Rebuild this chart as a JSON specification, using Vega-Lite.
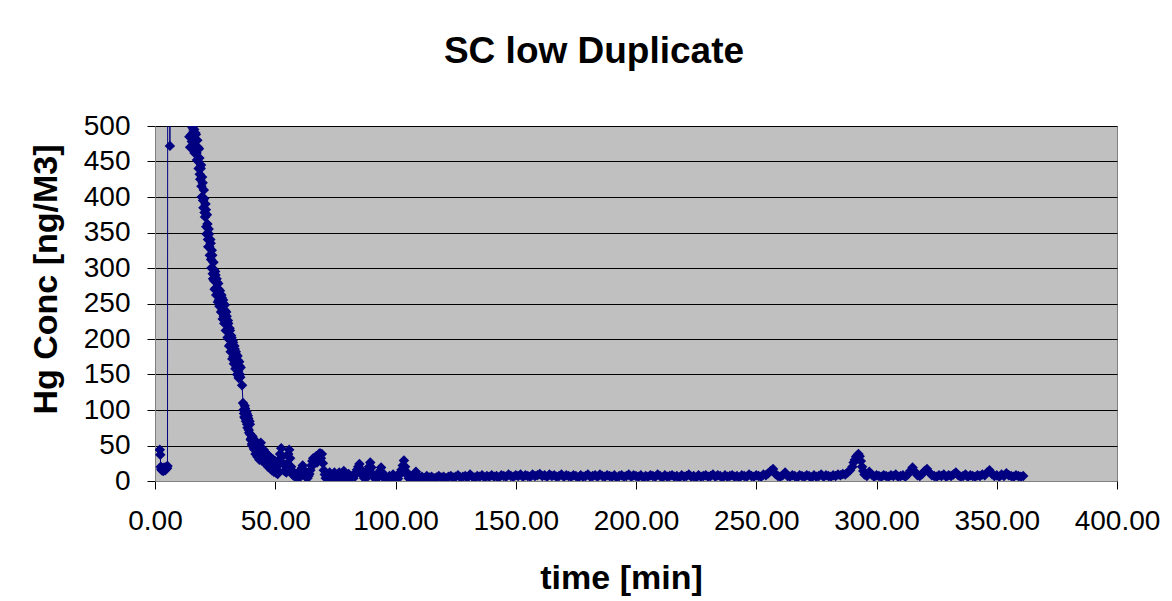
{
  "$schema": "https://vega.github.io/schema/vega-lite/v6.json",
  "width": 962,
  "height": 355,
  "autosize": "none",
  "padding": {"left": 155, "top": 126, "right": 55, "bottom": 120},
  "background": "white",
  "config": {
    "font": "Liberation Sans",
    "view": {"stroke": "#808080", "strokeWidth": 1, "fill": "#C0C0C0"}
  },
  "title": {
    "text": "SC low Duplicate",
    "font": "Liberation Sans",
    "fontSize": 37,
    "fontWeight": "bold",
    "color": "black",
    "anchor": "middle",
    "frame": "group",
    "dx": -42,
    "offset": 12,
    "baseline": "alphabetic"
  },
  "data": {
    "values": [
      {"t": 2.0, "c": 44}, {"t": 2.2, "c": 37}, {"t": 2.4, "c": 20}, {"t": 2.6, "c": 17}, {"t": 2.8, "c": 15},
      {"t": 3.0, "c": 18}, {"t": 3.2, "c": 16}, {"t": 3.4, "c": 14}, {"t": 3.6, "c": 17}, {"t": 3.8, "c": 19},
      {"t": 4.0, "c": 16}, {"t": 4.2, "c": 15}, {"t": 4.4, "c": 18}, {"t": 4.6, "c": 17}, {"t": 4.8, "c": 20},
      {"t": 5.0, "c": 18}, {"t": 5.2, "c": 21}, {"t": 5.4, "c": 1450}, {"t": 6.2, "c": 472}, {"t": 6.6, "c": 1300},
      {"t": 7.5, "c": 1100}, {"t": 8.5, "c": 950}, {"t": 9.5, "c": 850}, {"t": 10.5, "c": 760}, {"t": 11.5, "c": 680},
      {"t": 12.5, "c": 610}, {"t": 13.5, "c": 555}, {"t": 14.0, "c": 520}, {"t": 14.3, "c": 485}, {"t": 14.6, "c": 470},
      {"t": 15.0, "c": 505}, {"t": 15.3, "c": 478}, {"t": 15.6, "c": 498}, {"t": 16.0, "c": 468}, {"t": 16.3, "c": 495},
      {"t": 16.6, "c": 472}, {"t": 17.0, "c": 488}, {"t": 17.3, "c": 462}, {"t": 17.6, "c": 480}, {"t": 18.0, "c": 450},
      {"t": 18.3, "c": 468}, {"t": 18.6, "c": 432}, {"t": 19.0, "c": 440}, {"t": 19.3, "c": 415}, {"t": 19.6, "c": 428},
      {"t": 20.0, "c": 395}, {"t": 20.3, "c": 410}, {"t": 20.6, "c": 378}, {"t": 21.0, "c": 390}, {"t": 21.3, "c": 358},
      {"t": 21.6, "c": 375}, {"t": 22.0, "c": 340}, {"t": 22.3, "c": 355}, {"t": 22.6, "c": 330}, {"t": 23.0, "c": 340},
      {"t": 23.3, "c": 312}, {"t": 23.6, "c": 325}, {"t": 24.0, "c": 292}, {"t": 24.3, "c": 308}, {"t": 24.6, "c": 282},
      {"t": 25.0, "c": 295}, {"t": 25.3, "c": 272}, {"t": 25.6, "c": 285}, {"t": 26.0, "c": 262}, {"t": 26.3, "c": 278},
      {"t": 26.6, "c": 255}, {"t": 27.0, "c": 268}, {"t": 27.3, "c": 248}, {"t": 27.6, "c": 262}, {"t": 28.0, "c": 240},
      {"t": 28.3, "c": 255}, {"t": 28.6, "c": 232}, {"t": 29.0, "c": 248}, {"t": 29.3, "c": 222}, {"t": 29.6, "c": 238},
      {"t": 30.0, "c": 212}, {"t": 30.3, "c": 226}, {"t": 30.6, "c": 200}, {"t": 31.0, "c": 215}, {"t": 31.3, "c": 192},
      {"t": 31.6, "c": 205}, {"t": 32.0, "c": 182}, {"t": 32.3, "c": 198}, {"t": 32.6, "c": 175}, {"t": 33.0, "c": 190},
      {"t": 33.3, "c": 168}, {"t": 33.6, "c": 182}, {"t": 34.0, "c": 160}, {"t": 34.3, "c": 176}, {"t": 34.6, "c": 155},
      {"t": 35.0, "c": 168}, {"t": 35.3, "c": 150}, {"t": 35.6, "c": 160}, {"t": 36.2, "c": 135}, {"t": 36.6, "c": 110},
      {"t": 37.0, "c": 95}, {"t": 37.3, "c": 106}, {"t": 37.6, "c": 88}, {"t": 38.0, "c": 98}, {"t": 38.3, "c": 80},
      {"t": 38.6, "c": 92}, {"t": 39.0, "c": 72}, {"t": 39.3, "c": 84}, {"t": 39.6, "c": 66}, {"t": 40.0, "c": 60},
      {"t": 40.3, "c": 52}, {"t": 40.6, "c": 62}, {"t": 41.0, "c": 48}, {"t": 41.3, "c": 58}, {"t": 41.6, "c": 44},
      {"t": 42.0, "c": 55}, {"t": 42.4, "c": 40}, {"t": 42.8, "c": 50}, {"t": 43.2, "c": 36}, {"t": 43.6, "c": 47},
      {"t": 44.0, "c": 54}, {"t": 44.4, "c": 40}, {"t": 44.8, "c": 32}, {"t": 45.2, "c": 44}, {"t": 45.6, "c": 30},
      {"t": 46.0, "c": 40}, {"t": 46.4, "c": 28}, {"t": 46.8, "c": 37}, {"t": 47.2, "c": 25}, {"t": 47.6, "c": 34},
      {"t": 48.0, "c": 22}, {"t": 48.4, "c": 32}, {"t": 48.8, "c": 20}, {"t": 49.2, "c": 30}, {"t": 49.6, "c": 18},
      {"t": 50.0, "c": 28}, {"t": 50.4, "c": 16}, {"t": 50.8, "c": 26}, {"t": 51.2, "c": 14}, {"t": 51.6, "c": 30},
      {"t": 15.15, "c": 488}, {"t": 15.45, "c": 470}, {"t": 15.8, "c": 500}, {"t": 16.15, "c": 482}, {"t": 16.45, "c": 462},
      {"t": 16.8, "c": 490}, {"t": 17.15, "c": 470}, {"t": 17.45, "c": 452}, {"t": 17.8, "c": 470}, {"t": 18.15, "c": 440},
      {"t": 18.45, "c": 455}, {"t": 18.8, "c": 425}, {"t": 19.15, "c": 445}, {"t": 19.45, "c": 400}, {"t": 19.8, "c": 420},
      {"t": 20.15, "c": 385}, {"t": 20.45, "c": 398}, {"t": 20.8, "c": 372}, {"t": 21.15, "c": 382}, {"t": 21.45, "c": 348},
      {"t": 21.8, "c": 362}, {"t": 22.15, "c": 330}, {"t": 22.45, "c": 348}, {"t": 22.8, "c": 318}, {"t": 23.15, "c": 335},
      {"t": 23.45, "c": 300}, {"t": 23.8, "c": 318}, {"t": 24.15, "c": 285}, {"t": 24.45, "c": 298}, {"t": 24.8, "c": 270},
      {"t": 25.15, "c": 290}, {"t": 25.45, "c": 262}, {"t": 25.8, "c": 280}, {"t": 26.15, "c": 252}, {"t": 26.45, "c": 270},
      {"t": 26.8, "c": 246}, {"t": 27.15, "c": 262}, {"t": 27.45, "c": 238}, {"t": 27.8, "c": 258}, {"t": 28.15, "c": 228},
      {"t": 28.45, "c": 250}, {"t": 28.8, "c": 222}, {"t": 29.15, "c": 240}, {"t": 29.45, "c": 212}, {"t": 29.8, "c": 232},
      {"t": 30.15, "c": 202}, {"t": 30.45, "c": 222}, {"t": 30.8, "c": 190}, {"t": 31.15, "c": 212}, {"t": 31.45, "c": 182},
      {"t": 31.8, "c": 202}, {"t": 32.15, "c": 172}, {"t": 32.45, "c": 195}, {"t": 32.8, "c": 165}, {"t": 33.15, "c": 186},
      {"t": 33.45, "c": 158}, {"t": 33.8, "c": 178}, {"t": 34.15, "c": 150}, {"t": 34.45, "c": 170}, {"t": 34.8, "c": 145},
      {"t": 35.15, "c": 162}, {"t": 35.45, "c": 146}, {"t": 36.8, "c": 100}, {"t": 37.15, "c": 90}, {"t": 37.45, "c": 102},
      {"t": 37.8, "c": 84}, {"t": 38.15, "c": 95}, {"t": 38.45, "c": 75}, {"t": 38.8, "c": 88}, {"t": 39.15, "c": 68},
      {"t": 39.45, "c": 80}, {"t": 39.8, "c": 58}, {"t": 40.15, "c": 64}, {"t": 40.45, "c": 50}, {"t": 40.8, "c": 56},
      {"t": 41.15, "c": 45}, {"t": 41.45, "c": 52}, {"t": 41.8, "c": 38}, {"t": 42.2, "c": 48}, {"t": 42.6, "c": 34},
      {"t": 43.0, "c": 44}, {"t": 43.4, "c": 30}, {"t": 43.8, "c": 42}, {"t": 44.2, "c": 36}, {"t": 44.6, "c": 28},
      {"t": 45.0, "c": 38}, {"t": 45.4, "c": 26}, {"t": 45.8, "c": 34}, {"t": 46.2, "c": 24}, {"t": 46.6, "c": 32},
      {"t": 47.0, "c": 20}, {"t": 47.4, "c": 30}, {"t": 47.8, "c": 18}, {"t": 48.2, "c": 27}, {"t": 48.6, "c": 15},
      {"t": 49.0, "c": 25}, {"t": 49.4, "c": 13}, {"t": 49.8, "c": 23}, {"t": 50.2, "c": 12}, {"t": 50.6, "c": 20},
      {"t": 51.0, "c": 10}, {"t": 51.4, "c": 24},
      {"t": 52.0, "c": 38}, {"t": 52.5, "c": 46}, {"t": 53.0, "c": 35}, {"t": 53.4, "c": 24}, {"t": 53.8, "c": 14},
      {"t": 54.2, "c": 22}, {"t": 54.6, "c": 12}, {"t": 55.0, "c": 25}, {"t": 55.4, "c": 38}, {"t": 55.8, "c": 44},
      {"t": 56.2, "c": 32}, {"t": 56.6, "c": 20}, {"t": 57.0, "c": 14}, {"t": 57.4, "c": 8}, {"t": 57.8, "c": 12},
      {"t": 58.2, "c": 6}, {"t": 58.6, "c": 10}, {"t": 59.0, "c": 5}, {"t": 59.4, "c": 9}, {"t": 59.8, "c": 4},
      {"t": 60.2, "c": 10}, {"t": 60.6, "c": 15}, {"t": 61.0, "c": 18}, {"t": 61.4, "c": 22}, {"t": 61.8, "c": 16},
      {"t": 62.2, "c": 10}, {"t": 62.6, "c": 6}, {"t": 63.0, "c": 8}, {"t": 63.4, "c": 4}, {"t": 63.8, "c": 7},
      {"t": 64.2, "c": 10}, {"t": 64.6, "c": 15}, {"t": 65.0, "c": 22}, {"t": 65.4, "c": 28}, {"t": 65.8, "c": 32},
      {"t": 66.2, "c": 24}, {"t": 66.6, "c": 30}, {"t": 67.0, "c": 35}, {"t": 67.4, "c": 26}, {"t": 67.8, "c": 33},
      {"t": 68.2, "c": 38}, {"t": 68.6, "c": 39}, {"t": 69.0, "c": 32}, {"t": 69.4, "c": 38}, {"t": 69.8, "c": 25},
      {"t": 70.2, "c": 15}, {"t": 70.6, "c": 9}, {"t": 71.0, "c": 4}, {"t": 71.4, "c": 8}, {"t": 71.8, "c": 3},
      {"t": 72.2, "c": 7}, {"t": 72.6, "c": 12}, {"t": 73.0, "c": 8}, {"t": 73.4, "c": 3}, {"t": 73.8, "c": 4},
      {"t": 74.2, "c": 7}, {"t": 74.6, "c": 12}, {"t": 75.0, "c": 6}, {"t": 75.4, "c": 3}, {"t": 75.8, "c": 8},
      {"t": 76.2, "c": 4}, {"t": 76.6, "c": 12}, {"t": 77.0, "c": 7}, {"t": 77.4, "c": 3}, {"t": 78.0, "c": 9},
      {"t": 78.5, "c": 14}, {"t": 79.0, "c": 6}, {"t": 79.5, "c": 3}, {"t": 80.0, "c": 6}, {"t": 80.5, "c": 10},
      {"t": 81.0, "c": 4}, {"t": 81.5, "c": 3}, {"t": 82.0, "c": 7}, {"t": 82.5, "c": 4}, {"t": 83.0, "c": 8},
      {"t": 83.5, "c": 12}, {"t": 84.0, "c": 16}, {"t": 84.5, "c": 20}, {"t": 85.0, "c": 24}, {"t": 85.5, "c": 17},
      {"t": 86.0, "c": 12}, {"t": 86.5, "c": 7}, {"t": 87.0, "c": 4}, {"t": 87.5, "c": 3}, {"t": 88.0, "c": 8},
      {"t": 88.5, "c": 14}, {"t": 89.0, "c": 20}, {"t": 89.5, "c": 26}, {"t": 90.0, "c": 19}, {"t": 90.5, "c": 10},
      {"t": 91.0, "c": 6}, {"t": 91.5, "c": 3}, {"t": 92.0, "c": 7}, {"t": 92.5, "c": 4}, {"t": 93.0, "c": 9},
      {"t": 93.5, "c": 14}, {"t": 94.0, "c": 19}, {"t": 94.5, "c": 12}, {"t": 95.0, "c": 7}, {"t": 95.5, "c": 3},
      {"t": 96.0, "c": 6}, {"t": 96.5, "c": 2}, {"t": 97.0, "c": 5}, {"t": 97.5, "c": 7}, {"t": 98.0, "c": 3},
      {"t": 98.5, "c": 6}, {"t": 99.0, "c": 9}, {"t": 99.5, "c": 4}, {"t": 100.0, "c": 2}, {"t": 100.5, "c": 7},
      {"t": 101.0, "c": 3}, {"t": 101.5, "c": 8}, {"t": 102.0, "c": 12}, {"t": 102.5, "c": 16}, {"t": 103.0, "c": 22},
      {"t": 103.5, "c": 29}, {"t": 104.0, "c": 20}, {"t": 104.5, "c": 13}, {"t": 105.0, "c": 8}, {"t": 105.5, "c": 4},
      {"t": 106.0, "c": 3}, {"t": 106.5, "c": 6}, {"t": 107.0, "c": 4}, {"t": 107.5, "c": 8}, {"t": 108.0, "c": 5},
      {"t": 108.5, "c": 13}, {"t": 109.0, "c": 8}, {"t": 109.5, "c": 4},
      {"t": 110, "c": 5}, {"t": 111, "c": 6}, {"t": 112, "c": 4}, {"t": 113, "c": 7}, {"t": 114, "c": 5},
      {"t": 115, "c": 6}, {"t": 116, "c": 4}, {"t": 117, "c": 5}, {"t": 118, "c": 7}, {"t": 119, "c": 5},
      {"t": 120, "c": 6}, {"t": 121, "c": 4}, {"t": 122, "c": 6}, {"t": 123, "c": 7}, {"t": 124, "c": 5},
      {"t": 125, "c": 6}, {"t": 126, "c": 8}, {"t": 127, "c": 5}, {"t": 128, "c": 6}, {"t": 129, "c": 7},
      {"t": 130, "c": 5}, {"t": 131, "c": 9}, {"t": 132, "c": 6}, {"t": 133, "c": 5}, {"t": 134, "c": 7},
      {"t": 135, "c": 6}, {"t": 136, "c": 8}, {"t": 137, "c": 5}, {"t": 138, "c": 7}, {"t": 139, "c": 6},
      {"t": 140, "c": 8}, {"t": 141, "c": 6}, {"t": 142, "c": 7}, {"t": 143, "c": 5}, {"t": 144, "c": 8},
      {"t": 145, "c": 7}, {"t": 146, "c": 6}, {"t": 147, "c": 9}, {"t": 148, "c": 7}, {"t": 149, "c": 6},
      {"t": 150, "c": 8}, {"t": 151, "c": 7}, {"t": 152, "c": 9}, {"t": 153, "c": 6}, {"t": 154, "c": 8},
      {"t": 155, "c": 7}, {"t": 156, "c": 6}, {"t": 157, "c": 9}, {"t": 158, "c": 7}, {"t": 159, "c": 8},
      {"t": 160, "c": 10}, {"t": 161, "c": 7}, {"t": 162, "c": 8}, {"t": 163, "c": 6}, {"t": 164, "c": 9},
      {"t": 165, "c": 7}, {"t": 166, "c": 8}, {"t": 167, "c": 6}, {"t": 168, "c": 7}, {"t": 169, "c": 9},
      {"t": 170, "c": 6}, {"t": 171, "c": 8}, {"t": 172, "c": 7}, {"t": 173, "c": 6}, {"t": 174, "c": 8},
      {"t": 175, "c": 7}, {"t": 176, "c": 5}, {"t": 177, "c": 8}, {"t": 178, "c": 6}, {"t": 179, "c": 7},
      {"t": 180, "c": 9}, {"t": 181, "c": 6}, {"t": 182, "c": 7}, {"t": 183, "c": 8}, {"t": 184, "c": 6},
      {"t": 185, "c": 9}, {"t": 186, "c": 7}, {"t": 187, "c": 6}, {"t": 188, "c": 8}, {"t": 189, "c": 7},
      {"t": 190, "c": 6}, {"t": 191, "c": 8}, {"t": 192, "c": 5}, {"t": 193, "c": 7}, {"t": 194, "c": 8},
      {"t": 195, "c": 6}, {"t": 196, "c": 7}, {"t": 197, "c": 9}, {"t": 198, "c": 6}, {"t": 199, "c": 8},
      {"t": 200, "c": 7}, {"t": 201, "c": 6}, {"t": 202, "c": 8}, {"t": 203, "c": 5}, {"t": 204, "c": 7},
      {"t": 205, "c": 6}, {"t": 206, "c": 8}, {"t": 207, "c": 7}, {"t": 208, "c": 6}, {"t": 209, "c": 9},
      {"t": 210, "c": 7}, {"t": 211, "c": 5}, {"t": 212, "c": 8}, {"t": 213, "c": 6}, {"t": 214, "c": 7},
      {"t": 215, "c": 8}, {"t": 216, "c": 6}, {"t": 217, "c": 7}, {"t": 218, "c": 5}, {"t": 219, "c": 8},
      {"t": 220, "c": 6}, {"t": 221, "c": 7}, {"t": 222, "c": 9}, {"t": 223, "c": 6}, {"t": 224, "c": 7},
      {"t": 225, "c": 5}, {"t": 226, "c": 8}, {"t": 227, "c": 6}, {"t": 228, "c": 7}, {"t": 229, "c": 8},
      {"t": 230, "c": 6}, {"t": 231, "c": 7}, {"t": 232, "c": 9}, {"t": 233, "c": 6}, {"t": 234, "c": 8},
      {"t": 235, "c": 7}, {"t": 236, "c": 5}, {"t": 237, "c": 8}, {"t": 238, "c": 6}, {"t": 239, "c": 7},
      {"t": 240, "c": 8}, {"t": 241, "c": 6}, {"t": 242, "c": 7}, {"t": 243, "c": 5}, {"t": 244, "c": 8},
      {"t": 245, "c": 7}, {"t": 246, "c": 6}, {"t": 247, "c": 9}, {"t": 248, "c": 7}, {"t": 249, "c": 6},
      {"t": 250, "c": 8}, {"t": 251, "c": 7}, {"t": 252, "c": 6}, {"t": 253, "c": 9}, {"t": 254, "c": 8},
      {"t": 255, "c": 11}, {"t": 256, "c": 14}, {"t": 257, "c": 17}, {"t": 258, "c": 10}, {"t": 259, "c": 7},
      {"t": 260, "c": 6}, {"t": 261, "c": 8}, {"t": 262, "c": 12}, {"t": 263, "c": 7}, {"t": 264, "c": 6},
      {"t": 265, "c": 8}, {"t": 266, "c": 7}, {"t": 267, "c": 5}, {"t": 268, "c": 8}, {"t": 269, "c": 7},
      {"t": 270, "c": 6}, {"t": 271, "c": 8}, {"t": 272, "c": 7}, {"t": 273, "c": 5}, {"t": 274, "c": 8},
      {"t": 275, "c": 6}, {"t": 276, "c": 7}, {"t": 277, "c": 9}, {"t": 278, "c": 6}, {"t": 279, "c": 8},
      {"t": 280, "c": 7}, {"t": 281, "c": 6}, {"t": 282, "c": 8}, {"t": 283, "c": 7}, {"t": 284, "c": 9},
      {"t": 285, "c": 8}, {"t": 286, "c": 10}, {"t": 287, "c": 9}, {"t": 288, "c": 12}, {"t": 289, "c": 15},
      {"t": 290, "c": 20}, {"t": 290.5, "c": 26}, {"t": 291, "c": 30}, {"t": 291.5, "c": 34}, {"t": 292, "c": 36},
      {"t": 292.5, "c": 38}, {"t": 293, "c": 35}, {"t": 293.5, "c": 28}, {"t": 294, "c": 20}, {"t": 294.5, "c": 14},
      {"t": 295, "c": 9}, {"t": 296, "c": 7}, {"t": 297, "c": 13}, {"t": 298, "c": 9}, {"t": 299, "c": 6},
      {"t": 300, "c": 8}, {"t": 301, "c": 7}, {"t": 302, "c": 6}, {"t": 303, "c": 8}, {"t": 304, "c": 7},
      {"t": 305, "c": 6}, {"t": 306, "c": 8}, {"t": 307, "c": 7}, {"t": 308, "c": 9}, {"t": 309, "c": 6},
      {"t": 310, "c": 7}, {"t": 311, "c": 8}, {"t": 312, "c": 6}, {"t": 313, "c": 9}, {"t": 314, "c": 14},
      {"t": 315, "c": 19}, {"t": 316, "c": 13}, {"t": 317, "c": 8}, {"t": 318, "c": 7}, {"t": 319, "c": 10},
      {"t": 320, "c": 14}, {"t": 321, "c": 17}, {"t": 322, "c": 12}, {"t": 323, "c": 8}, {"t": 324, "c": 7},
      {"t": 325, "c": 6}, {"t": 326, "c": 8}, {"t": 327, "c": 7}, {"t": 328, "c": 9}, {"t": 329, "c": 6},
      {"t": 330, "c": 8}, {"t": 331, "c": 7}, {"t": 332, "c": 9}, {"t": 333, "c": 12}, {"t": 334, "c": 8},
      {"t": 335, "c": 6}, {"t": 336, "c": 7}, {"t": 337, "c": 9}, {"t": 338, "c": 6}, {"t": 339, "c": 8},
      {"t": 340, "c": 7}, {"t": 341, "c": 6}, {"t": 342, "c": 8}, {"t": 343, "c": 7}, {"t": 344, "c": 9},
      {"t": 345, "c": 8}, {"t": 346, "c": 12}, {"t": 347, "c": 15}, {"t": 348, "c": 10}, {"t": 349, "c": 7},
      {"t": 350, "c": 8}, {"t": 351, "c": 6}, {"t": 352, "c": 9}, {"t": 353, "c": 7}, {"t": 354, "c": 11},
      {"t": 355, "c": 8}, {"t": 356, "c": 7}, {"t": 357, "c": 6}, {"t": 358, "c": 8}, {"t": 359, "c": 7},
      {"t": 360, "c": 6}, {"t": 361, "c": 7}
    ]
  },
  "encoding": {
    "x": {
      "field": "t",
      "type": "quantitative",
      "scale": {"domain": [0, 400], "nice": false, "zero": false},
      "axis": {
        "values": [0, 50, 100, 150, 200, 250, 300, 350, 400],
        "format": ".2f",
        "title": "time [min]",
        "grid": false,
        "domainColor": "#808080",
        "domainWidth": 1,
        "tickColor": "#000000",
        "tickSize": 8,
        "tickWidth": 1,
        "labelFont": "Liberation Sans",
        "labelFontSize": 28,
        "labelColor": "black",
        "labelPadding": 18,
        "labelFlush": false,
        "labelOverlap": false,
        "titleFont": "Liberation Sans",
        "titleFontSize": 34,
        "titleFontWeight": "bold",
        "titleColor": "black",
        "titleX": 466,
        "titleY": 97,
        "titleAlign": "center",
        "titleBaseline": "middle"
      }
    },
    "y": {
      "field": "c",
      "type": "quantitative",
      "scale": {"domain": [0, 500], "nice": false},
      "axis": {
        "values": [0, 50, 100, 150, 200, 250, 300, 350, 400, 450, 500],
        "title": "Hg Conc [ng/M3]",
        "grid": true,
        "gridColor": "#000000",
        "gridWidth": 1,
        "gridOpacity": 1,
        "domainColor": "#808080",
        "domainWidth": 1,
        "tickColor": "#000000",
        "tickSize": 8,
        "tickWidth": 1,
        "labelFont": "Liberation Sans",
        "labelFontSize": 28,
        "labelColor": "black",
        "labelPadding": 17,
        "labelFlush": false,
        "labelOverlap": false,
        "titleFont": "Liberation Sans",
        "titleFontSize": 34,
        "titleFontWeight": "bold",
        "titleColor": "black",
        "titleAngle": 270,
        "titleX": -109,
        "titleY": 153,
        "titleAlign": "center",
        "titleBaseline": "middle"
      }
    }
  },
  "layer": [
    {"mark": {"type": "line", "color": "#000080", "strokeWidth": 1, "clip": true}},
    {"mark": {"type": "point", "shape": "diamond", "filled": true, "size": 110, "color": "#000080", "opacity": 1, "clip": true}}
  ]
}
